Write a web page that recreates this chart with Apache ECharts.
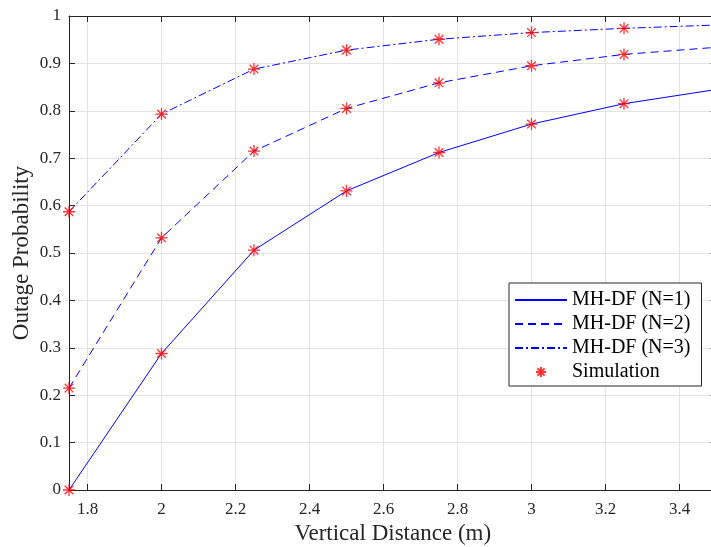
<!DOCTYPE html>
<html><head><meta charset="utf-8">
<script src="https://cdn.jsdelivr.net/npm/echarts@6/dist/echarts.min.js"></script>
<style>html,body{margin:0;padding:0;background:#fff}#c{width:711px;height:547px}</style>
</head><body><div id="c"></div>
<script>
const lineX = [1.75, 2.0, 2.25, 2.5, 2.75, 3.0, 3.25, 3.5];
const mhdfN1 = [0.000, 0.288, 0.506, 0.631, 0.712, 0.772, 0.815, 0.845];
const mhdfN2 = [0.215, 0.532, 0.715, 0.805, 0.859, 0.895, 0.919, 0.934];
const mhdfN3 = [0.587, 0.793, 0.888, 0.928, 0.951, 0.965, 0.974, 0.981];
const simX = [1.75, 2.0, 2.25, 2.5, 2.75, 3.0, 3.25];
const simN1 = [0.000, 0.288, 0.506, 0.631, 0.712, 0.772, 0.815];
const simN2 = [0.215, 0.532, 0.715, 0.805, 0.859, 0.895, 0.919];
const simN3 = [0.587, 0.793, 0.888, 0.928, 0.951, 0.965, 0.974];
const xTickValues = [1.8, 2.0, 2.2, 2.4, 2.6, 2.8, 3.0, 3.2, 3.4];
const seriesNames = ['MH-DF (N=1)', 'MH-DF (N=2)', 'MH-DF (N=3)', 'Simulation'];
const xName = 'Vertical Distance (m)';
const yName = 'Outage Probability';

const FONT = 'Liberation Serif';
const AX = '#262626';
const GRIDC = '#e3e3e3';
const star = 'path://M0,-6L0,6M-6,0L6,0M-4.3,-4.3L4.3,4.3M-4.3,4.3L4.3,-4.3';

const pairs = (xs, ys) => xs.map((x, i) => [x, ys[i]]);
const simData = [].concat(pairs(simX, simN1), pairs(simX, simN2), pairs(simX, simN3));

const chart = echarts.init(document.getElementById('c'), null, {renderer: 'canvas'});
chart.setOption({
  backgroundColor: '#fff',
  animation: false,
  grid: {left: 69, top: 16, bottom: 57, right: -5.5, containLabel: false, outerBoundsMode: 'none'},
  legend: {
    orient: 'vertical',
    left: 509, top: 283,
    data: [
      {name: seriesNames[0], itemStyle: {opacity: 0}},
      {name: seriesNames[1], itemStyle: {opacity: 0}},
      {name: seriesNames[2], itemStyle: {opacity: 0}},
      {name: seriesNames[3]}
    ],
    itemWidth: 52, itemHeight: 10, itemGap: 4,
    padding: [7, 11, 4, 5],
    borderColor: AX, borderWidth: 1,
    backgroundColor: '#fff',
    textStyle: {fontFamily: FONT, fontSize: 20, color: '#000'}
  },
  xAxis: [{
    type: 'value', min: 1.75, max: 3.5, position: 'bottom',
    name: xName, nameLocation: 'middle', nameGap: 32, nameMoveOverlap: false,
    nameTextStyle: {fontFamily: FONT, fontSize: 23, color: AX},
    axisLine: {show: true, onZero: false, lineStyle: {color: AX, width: 1}},
    axisTick: {show: true, inside: true, length: 6, customValues: xTickValues, lineStyle: {color: AX}},
    axisLabel: {customValues: xTickValues, fontFamily: FONT, fontSize: 17, color: AX, margin: 11},
    splitLine: {show: true, lineStyle: {color: GRIDC, width: 1}}
  }, {
    type: 'value', min: 1.75, max: 3.5, position: 'top',
    axisLine: {show: true, onZero: false, lineStyle: {color: AX, width: 1}},
    axisTick: {show: true, inside: true, length: 6, customValues: xTickValues, lineStyle: {color: AX}},
    axisLabel: {show: false},
    splitLine: {show: false}
  }],
  yAxis: [{
    type: 'value', min: 0, max: 1, interval: 0.1, position: 'left',
    name: yName, nameLocation: 'middle', nameGap: 36, nameMoveOverlap: false,
    nameTextStyle: {fontFamily: FONT, fontSize: 23, color: AX},
    axisLine: {show: true, onZero: false, lineStyle: {color: AX, width: 1}},
    axisTick: {show: true, inside: true, length: 6, lineStyle: {color: AX}},
    axisLabel: {fontFamily: FONT, fontSize: 17, color: AX, margin: 8},
    splitLine: {show: true, lineStyle: {color: GRIDC, width: 1}}
  }, {
    type: 'value', min: 0, max: 1, interval: 0.1, position: 'right',
    axisLine: {show: true, onZero: false, lineStyle: {color: AX, width: 1}},
    axisTick: {show: true, inside: true, length: 6, lineStyle: {color: AX}},
    axisLabel: {show: false},
    splitLine: {show: false}
  }],
  series: [
    {name: seriesNames[0], type: 'line', data: pairs(lineX, mhdfN1), showSymbol: false,
     lineStyle: {color: '#0000ff', width: 1, type: 'solid'}, itemStyle: {color: '#0000ff', opacity: 0}, z: 3},
    {name: seriesNames[1], type: 'line', data: pairs(lineX, mhdfN2), showSymbol: false,
     lineStyle: {color: '#0000ff', width: 1, type: [8, 5]}, itemStyle: {color: '#0000ff', opacity: 0}, z: 3},
    {name: seriesNames[2], type: 'line', data: pairs(lineX, mhdfN3), showSymbol: false,
     lineStyle: {color: '#0000ff', width: 1, type: [8, 3, 2, 3]}, itemStyle: {color: '#0000ff', opacity: 0}, z: 3},
    {name: seriesNames[3], type: 'scatter', data: simData, symbol: star, symbolSize: 12,
     itemStyle: {color: '#ff0000', borderColor: '#ff0000', borderWidth: 1.3}, z: 4}
  ]
});
</script></body></html>
